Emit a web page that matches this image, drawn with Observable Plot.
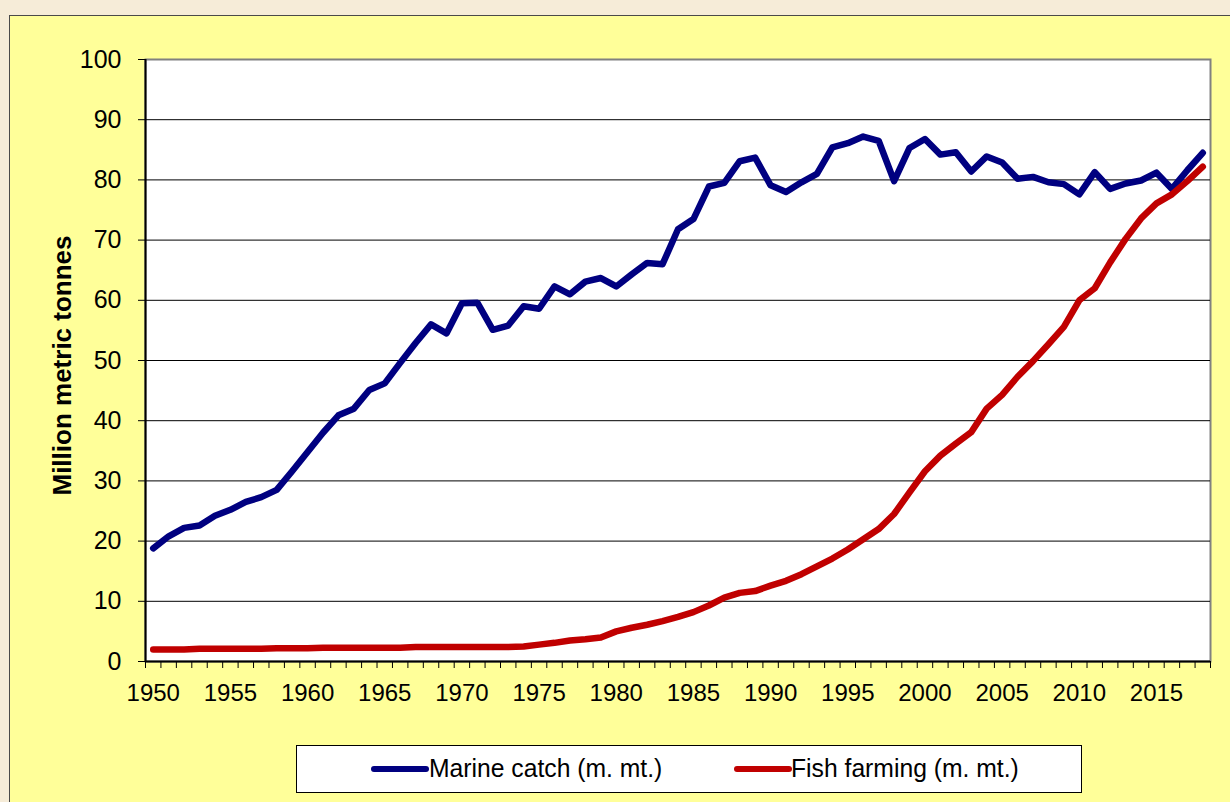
<!DOCTYPE html>
<html>
<head>
<meta charset="utf-8">
<script src="https://cdn.jsdelivr.net/npm/d3@7"></script>
<script src="https://cdn.jsdelivr.net/npm/@observablehq/plot@0.6"></script>
<style>
  html, body { margin: 0; padding: 0; }
  body { width: 1230px; height: 802px; background: #f6ecd8; position: relative; overflow: hidden;
         font-family: "Liberation Sans", Arial, sans-serif; }
  #panel { position: absolute; left: 9px; top: 15px; width: 1240px; height: 800px;
           background: #ffff99; border: 1px solid #4a4a4a; }
  #chart { position: absolute; left: 0; top: 0; }
  #legend { position: absolute; left: 296px; top: 745px; width: 784px; height: 46px;
            background: #fff; border: 1px solid #000; }
  .sw { position: absolute; top: 20px; height: 6px; border-radius: 3px; }
  .lt { position: absolute; top: 7px; font-size: 26px; line-height: 30px; color: #000;
        transform-origin: 0 50%; transform: scaleX(0.95); white-space: nowrap; }
</style>
</head>
<body>
<div id="panel"></div>
<div id="chart"></div>
<div id="legend"></div>
<script>
const years = [1950,1951,1952,1953,1954,1955,1956,1957,1958,1959,
  1960,1961,1962,1963,1964,1965,1966,1967,1968,1969,
  1970,1971,1972,1973,1974,1975,1976,1977,1978,1979,
  1980,1981,1982,1983,1984,1985,1986,1987,1988,1989,
  1990,1991,1992,1993,1994,1995,1996,1997,1998,1999,
  2000,2001,2002,2003,2004,2005,2006,2007,2008,2009,
  2010,2011,2012,2013,2014,2015,2016,2017,2018];

const marineCatch = [18.8,20.8,22.2,22.6,24.2,25.2,26.5,27.3,28.5,31.6,
  34.8,38.0,40.9,42.0,45.1,46.2,49.6,52.9,56.0,54.5,
  59.5,59.6,55.1,55.8,59.0,58.6,62.3,61.0,63.1,63.7,
  62.3,64.3,66.2,66.0,71.8,73.5,78.9,79.5,83.1,83.7,
  79.1,78.0,79.6,81.0,85.4,86.1,87.2,86.5,79.8,85.3,
  86.8,84.2,84.6,81.4,83.9,82.9,80.2,80.5,79.6,79.3,
  77.6,81.3,78.5,79.4,79.9,81.2,78.5,81.6,84.5];

const fishFarming = [2.0,2.0,2.0,2.1,2.1,2.1,2.1,2.1,2.2,2.2,
  2.2,2.3,2.3,2.3,2.3,2.3,2.3,2.4,2.4,2.4,
  2.4,2.4,2.4,2.4,2.5,2.8,3.1,3.5,3.7,4.0,
  5.0,5.6,6.1,6.7,7.4,8.2,9.3,10.6,11.4,11.7,
  12.6,13.4,14.5,15.8,17.1,18.6,20.3,22.0,24.5,28.1,
  31.6,34.2,36.2,38.1,42.0,44.3,47.3,49.9,52.7,55.6,
  60.0,62.0,66.3,70.2,73.6,76.1,77.6,79.8,82.2];

const seriesNames = ["Marine catch (m. mt.)", "Fish farming (m. mt.)"];
const seriesColors = ["#000080", "#c00000"];
const yTicks = [0,10,20,30,40,50,60,70,80,90,100];
const xLabelYears = [1950,1955,1960,1965,1970,1975,1980,1985,1990,1995,2000,2005,2010,2015];
const yTitle = "Million metric tonnes";

const marineData = years.map((y, i) => ({year: y, value: marineCatch[i]}));
const farmData = years.map((y, i) => ({year: y, value: fishFarming[i]}));
const xDomain = [years[0] - 0.5, years[years.length - 1] + 0.5];
const boundaries = [xDomain[0], ...years.map(y => y + 0.5)];

const chart = Plot.plot({
  width: 1230,
  height: 802,
  marginLeft: 145,
  marginRight: 20,
  marginTop: 59,
  marginBottom: 141,
  style: {background: "transparent", fontFamily: "'Liberation Sans', Arial, sans-serif", color: "#000"},
  x: {domain: xDomain},
  y: {domain: [0, 100]},
  marks: [
    Plot.frame({fill: "white", stroke: "#808080", strokeWidth: 2}),
    Plot.ruleY(yTicks.filter(d => d > 0 && d < 100), {stroke: "#000", strokeWidth: 1}),
    Plot.ruleX([xDomain[0]], {stroke: "#000", strokeWidth: 2}),
    Plot.ruleY([0], {stroke: "#000", strokeWidth: 2}),
    Plot.axisY({ticks: yTicks, tickSize: 7, tickPadding: 17, fontSize: 25, label: null, tickFormat: d => String(d)}),
    Plot.axisX({ticks: boundaries, tickSize: 7, tickFormat: () => "", label: null}),
    Plot.axisX({ticks: xLabelYears, tickSize: 0, tickPadding: 22, fontSize: 24, label: null, tickFormat: d => String(d)}),
    Plot.line(marineData, {x: "year", y: "value", stroke: seriesColors[0], strokeWidth: 6.5, strokeLinecap: "round", strokeLinejoin: "round"}),
    Plot.line(farmData, {x: "year", y: "value", stroke: seriesColors[1], strokeWidth: 6.5, strokeLinecap: "round", strokeLinejoin: "round"}),
    Plot.text([yTitle], {frameAnchor: "left", textAnchor: "middle", rotate: -90, dx: -83, dy: 5, fontSize: 26, fontWeight: "bold", fill: "#000"})
  ]
});
document.getElementById("chart").appendChild(chart);

// legend
const legend = document.getElementById("legend");
const swLeft = [74, 437];
const txtLeft = [132, 494];
seriesNames.forEach((name, i) => {
  const sw = document.createElement("div");
  sw.className = "sw";
  sw.style.left = swLeft[i] + "px";
  sw.style.width = "58px";
  sw.style.background = seriesColors[i];
  legend.appendChild(sw);
  const t = document.createElement("div");
  t.className = "lt";
  t.style.left = txtLeft[i] + "px";
  t.textContent = name;
  legend.appendChild(t);
});
</script>
</body>
</html>
